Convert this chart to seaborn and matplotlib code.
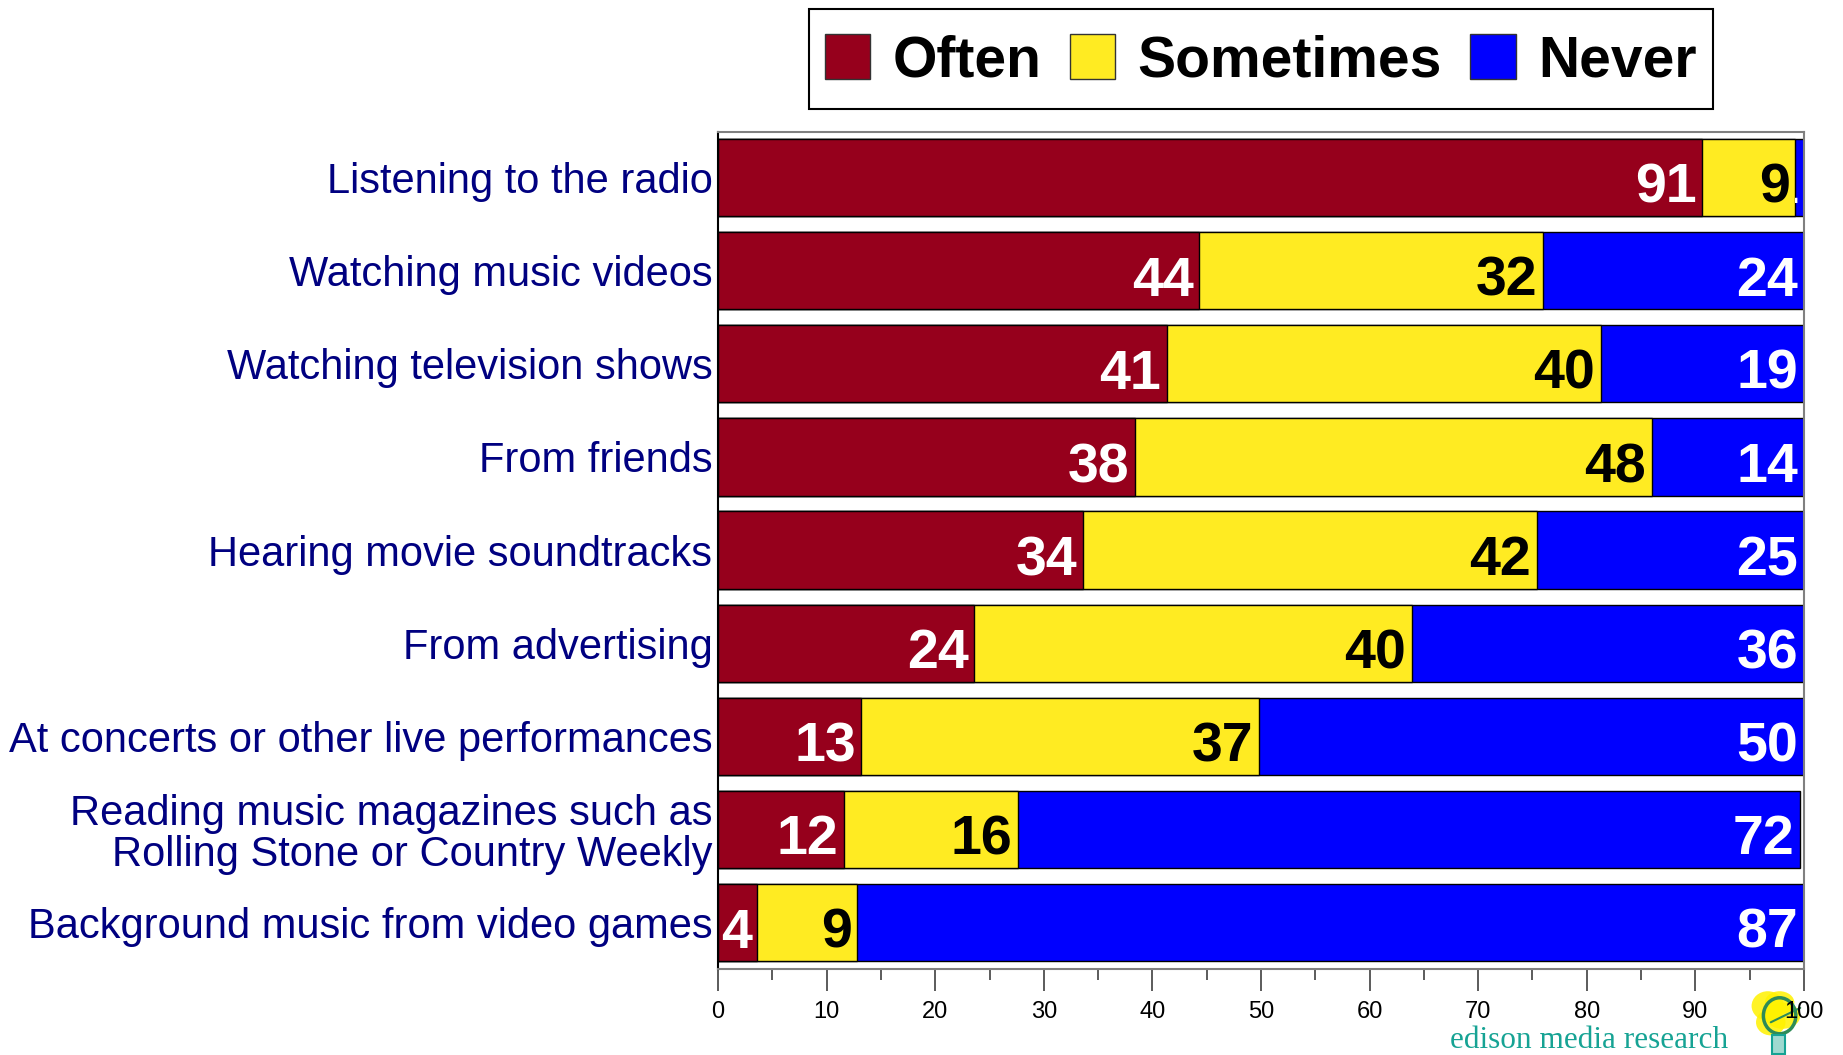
import numpy as np
import pandas as pd
import matplotlib
matplotlib.use("Agg")
import matplotlib.pyplot as plt
from matplotlib.patches import Rectangle, Ellipse, Patch
import seaborn as sns

categories = [
    "Listening to the radio",
    "Watching music videos",
    "Watching television shows",
    "From friends",
    "Hearing movie soundtracks",
    "From advertising",
    "At concerts or other live performances",
    "Reading music magazines such as\nRolling Stone or Country Weekly",
    "Background music from video games",
]
often = [90.6, 44.3, 41.3, 38.4, 33.6, 23.6, 13.2, 11.6, 3.6]
sometimes = [8.6, 31.7, 40.0, 47.6, 41.8, 40.3, 36.6, 16.0, 9.2]
never = [0.8, 24.0, 18.7, 14.0, 24.6, 36.1, 50.2, 72.0, 87.2]

series_names = ["Often", "Sometimes", "Never"]
series_colors = ["#96001C", "#FFEB22", "#0000FF"]
label_colors = ["white", "black", "white"]
x_ticks = [0, 10, 20, 30, 40, 50, 60, 70, 80, 90, 100]

sns.set_theme(style="white")
plt.rcParams["font.family"] = ["Liberation Sans", "DejaVu Sans"]
plt.rcParams["text.color"] = "black"

df = pd.DataFrame({"category": categories, "Often": often,
                   "Sometimes": sometimes, "Never": never})
df["c1"] = df["Often"]
df["c2"] = df["Often"] + df["Sometimes"]
df["c3"] = df["c2"] + df["Never"]

fig = plt.figure(figsize=(18.43, 10.55), dpi=100)
ax = fig.add_axes([0.3896, 0.0815, 0.5892, 0.7934])
ax.set_zorder(2)

bar_h = 0.83
# stacked bars drawn back to front from the cumulative totals
for col, color in zip(["c3", "c2", "c1"], series_colors[::-1]):
    sns.barplot(data=df, x=col, y="category", orient="h", color=color,
                edgecolor="black", linewidth=1.0, width=bar_h,
                saturation=1, ax=ax)

ax.set_xlim(0, 100)
ax.set_ylim(8.5, -0.49)
ax.set_xlabel("")
ax.set_ylabel("")

# value labels, right-aligned at the end of each segment
starts = [np.zeros(len(df)), df["c1"].values, df["c2"].values]
for k, name in enumerate(series_names):
    vals = df[name].values
    for i, v in enumerate(vals):
        end = starts[k][i] + v
        t = ax.annotate(f"{v:.0f}", xy=(end, i + 0.27), xytext=(-4, 0),
                        textcoords="offset points", ha="right", va="baseline",
                        fontsize=40, fontweight="bold", color=label_colors[k])
        t.set_clip_path(Rectangle((starts[k][i], i - bar_h / 2), v, bar_h,
                                  transform=ax.transData))

# axes frame
for side in ["top", "right", "bottom"]:
    ax.spines[side].set_color("#808080")
    ax.spines[side].set_linewidth(1.5)
ax.spines["left"].set_color("black")
ax.spines["left"].set_linewidth(1.5)

ax.set_xticks(x_ticks)
ax.set_xticks(np.arange(5, 100, 10), minor=True)
ax.tick_params(axis="x", which="major", direction="out", length=16, width=1.2,
               color="#404040", pad=7, bottom=True, labelsize=17,
               labelcolor="black")
ax.tick_params(axis="x", which="minor", direction="out", length=8, width=1.2,
               color="#404040", bottom=True)

ax.tick_params(axis="y", length=0, pad=4)
for lbl in ax.get_yticklabels():
    lbl.set_fontsize(30)
    lbl.set_color("#000080")
    lbl.set_horizontalalignment("right")
    lbl.set_multialignment("right")
    lbl.set_linespacing(1.05)

# legend, with its frame drawn as a separate box
handles = [Patch(facecolor=c, edgecolor="#333333", linewidth=1.0) for c in series_colors]
leg = fig.legend(handles, series_names, loc="center", bbox_to_anchor=(0.684, 0.942),
                 ncol=3, frameon=False, prop={"size": 41, "weight": "bold"},
                 handlelength=0.8, handleheight=0.85, handletextpad=0.39,
                 columnspacing=0.5, borderpad=0.3, borderaxespad=0)
for txt in leg.get_texts():
    txt.set_color("black")
fig.patches.append(Rectangle((809 / 1843, 1 - 109 / 1055), 904 / 1843, 100 / 1055,
                             transform=fig.transFigure, facecolor="none",
                             edgecolor="black", linewidth=1.5))

# company mark
fig.text(0.7865, 0.0068, "edison media research", family=["Liberation Serif"],
         fontsize=22.5, color="#16A394", ha="left", va="baseline")

lax = fig.add_axes([0.948, 0.0, 0.032, 0.062])
lax.set_zorder(1)
lax.patch.set_alpha(0)
lax.set_xlim(0, 1)
lax.set_ylim(0, 1)
lax.axis("off")
for (cx, cy, w, h) in [(0.35, 0.75, 0.55, 0.45), (0.6, 0.6, 0.6, 0.4),
                       (0.4, 0.5, 0.5, 0.4), (0.55, 0.8, 0.5, 0.35)]:
    lax.add_patch(Ellipse((cx, cy), w, h, facecolor="#FFF200", alpha=0.85,
                          edgecolor="none"))
lax.add_patch(Ellipse((0.55, 0.6), 0.55, 0.55, facecolor="none",
                      edgecolor="#2E8B57", linewidth=2.5))
lax.plot([0.4, 0.9], [0.5, 0.72], color="#2E8B57", linewidth=1.5)
lax.add_patch(Rectangle((0.42, 0.02), 0.22, 0.28, facecolor="#9ED9D0",
                        edgecolor="#16A394", linewidth=1.5))

fig.savefig("out.png", dpi=100)
